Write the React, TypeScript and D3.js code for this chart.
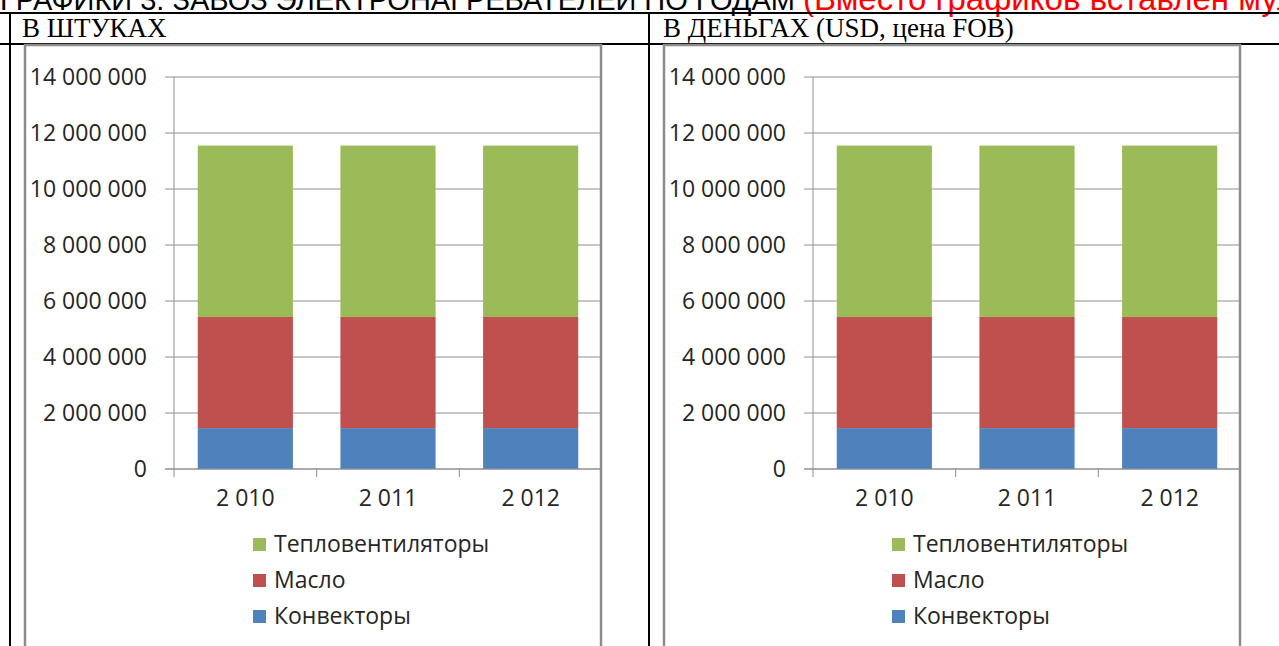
import * as React from 'react';
import * as d3 from 'd3';

// годы и серии (одинаковые в обоих графиках — муляж)
const years = ['2 010', '2 011', '2 012'];
const seriesNames = ['Конвекторы', 'Масло', 'Тепловентиляторы'];
const konvektory = [1460000, 1460000, 1460000];
const maslo = [3970000, 3970000, 3970000];
const teploventilyatory = [6120000, 6120000, 6120000];
const yTicks = [0, 2000000, 4000000, 6000000, 8000000, 10000000, 12000000, 14000000];
const colors = ['#4F81BD', '#C0504D', '#9BBB59'];

const pageTitle = 'ГРАФИКИ 3. ЗАВОЗ ЭЛЕКТРОНАГРЕВАТЕЛЕЙ ПО ГОДАМ ';
const pageNote = '(Вместо графиков вставлен муляж)';
const headers = ['В ШТУКАХ', 'В ДЕНЬГАХ (USD, цена FOB)'];

const W = 1279;
const H = 646;

const fmt = (v: number) => d3.format(',')(v).replace(/,/g, ' ');

const App: React.FC = () => {
  const svgRef = React.useRef(null);

  React.useEffect(() => {
    const svg = d3.select(svgRef.current);
    svg.selectAll('*').remove();

    // title line, cut by the top edge as in the document
    const t = svg.append('text')
      .attr('x', 0)
      .attr('y', 10)
      .attr('font-family', 'Liberation Sans, Arial, sans-serif')
      .attr('font-size', 29);
    t.append('tspan').attr('fill', '#000').text(pageTitle);
    t.append('tspan').attr('fill', '#FF0000').attr('font-size', 33).text(pageNote);

    svg.append('rect').attr('x', 0).attr('y', 12).attr('width', W).attr('height', 2).attr('fill', '#000');
    svg.append('rect').attr('x', 0).attr('y', 43).attr('width', W).attr('height', 2).attr('fill', '#000');
    svg.append('rect').attr('x', 9).attr('y', 12).attr('width', 2).attr('height', H).attr('fill', '#000');
    svg.append('rect').attr('x', 648).attr('y', 12).attr('width', 2).attr('height', H).attr('fill', '#000');

    headers.forEach((h, i) => {
      svg.append('text')
        .attr('x', 22 + i * 641)
        .attr('y', 37)
        .attr('font-family', 'Liberation Serif, Times New Roman, serif')
        .attr('font-size', 27)
        .attr('fill', '#000')
        .text(h);
    });

    const stacked = d3.stack<number>()
      .keys(['0', '1', '2'])
      .value((i, key) => [konvektory, maslo, teploventilyatory][+key][i])(d3.range(years.length));

    [0, 639].forEach((dx) => {
      const g = svg.append('g').attr('transform', `translate(${dx},0)`);

      const x = d3.scaleBand().domain(years).range([174, 602]).paddingInner(0.333).paddingOuter(0.1665);
      const xTicks = d3.scaleBand().domain(years).range([174, 602]);
      const y = d3.scaleLinear().domain([0, 14000000]).range([469, 77]);

      // gridlines + y labels
      g.selectAll('.grid').data(yTicks).enter().append('line')
        .attr('x1', 165).attr('x2', 601)
        .attr('y1', (d) => y(d)).attr('y2', (d) => y(d))
        .attr('stroke', '#8f8f8f').attr('stroke-width', 1);

      g.selectAll('.ylab').data(yTicks).enter().append('text')
        .attr('x', 147)
        .attr('y', (d) => y(d))
        .attr('dy', '0.35em')
        .attr('text-anchor', 'end')
        .attr('font-family', 'Open Sans, sans-serif')
        .attr('font-size', 23)
        .attr('fill', '#262626')
        .text((d) => fmt(d));

      // bars
      stacked.forEach((layer, si) => {
        g.selectAll(`.bar${si}`).data(layer).enter().append('rect')
          .attr('x', (d, i) => x(years[i]) as number)
          .attr('width', x.bandwidth())
          .attr('y', (d) => y(d[1]))
          .attr('height', (d) => y(d[0]) - y(d[1]))
          .attr('fill', colors[si]);
      });

      // axes
      g.append('line').attr('x1', 174).attr('x2', 174).attr('y1', 77).attr('y2', 477)
        .attr('stroke', '#8f8f8f');
      g.append('line').attr('x1', 165).attr('x2', 601).attr('y1', 469).attr('y2', 469)
        .attr('stroke', '#8f8f8f');
      g.selectAll('.xt').data(years.slice(1)).enter().append('line')
        .attr('x1', (d) => xTicks(d) as number).attr('x2', (d) => xTicks(d) as number)
        .attr('y1', 469).attr('y2', 477)
        .attr('stroke', '#8f8f8f');

      g.selectAll('.xlab').data(years).enter().append('text')
        .attr('x', (d) => (x(d) as number) + x.bandwidth() / 2)
        .attr('y', 506)
        .attr('text-anchor', 'middle')
        .attr('font-family', 'Open Sans, sans-serif')
        .attr('font-size', 23)
        .attr('fill', '#262626')
        .text((d) => d);

      // legend
      const legendOrder = [2, 1, 0];
      legendOrder.forEach((si, k) => {
        const cy = 544 + k * 36;
        g.append('rect').attr('x', 253).attr('y', cy - 6).attr('width', 13).attr('height', 13).attr('fill', colors[si]);
        g.append('text')
          .attr('x', 274).attr('y', cy)
          .attr('dy', '0.35em')
          .attr('font-family', 'Open Sans, sans-serif')
          .attr('font-size', 23)
          .attr('fill', '#262626')
          .text(seriesNames[si]);
      });

      // chart frame
      g.append('rect')
        .attr('x', 25).attr('y', 45).attr('width', 576).attr('height', H)
        .attr('fill', 'none').attr('stroke', '#8c8c8c').attr('stroke-width', 2.5);
    });
  }, []);

  return (
    <svg ref={svgRef} width={W} height={H}
      style={{ position: 'absolute', left: 0, top: 0, background: '#fff' }} />
  );
};

export default App;
